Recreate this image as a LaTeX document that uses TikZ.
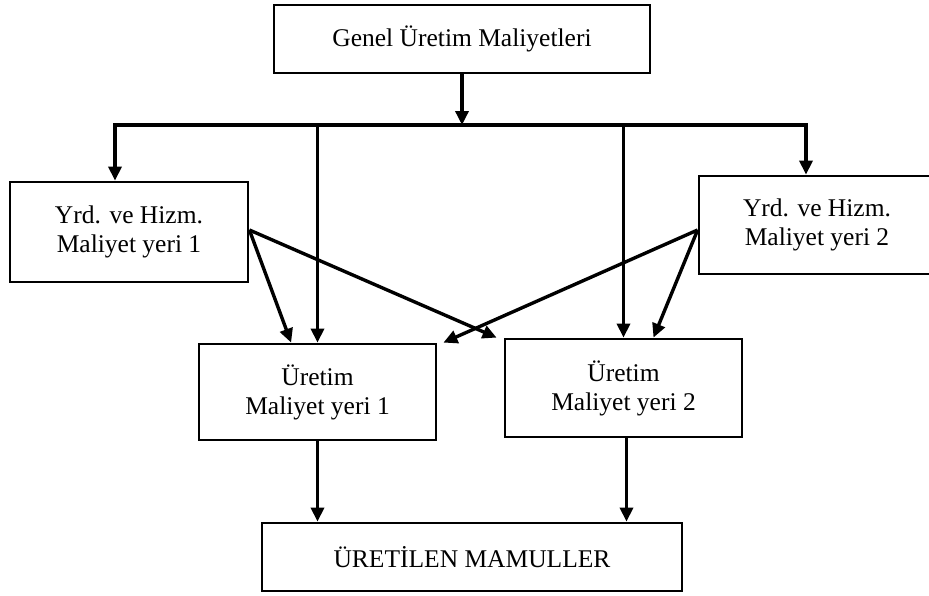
\documentclass[tikz,border=0pt]{standalone}
\usepackage{fontspec}
\setmainfont{Liberation Serif}
\usetikzlibrary{arrows.meta,calc}
\begin{document}
\begin{tikzpicture}[x=1pt,y=-1pt,
  box/.style={draw,line width=2.8pt,rectangle,align=center,inner sep=0pt,
    font=\fontsize{25.5}{29}\selectfont},
  flow/.style={line width=3.4pt,-{Triangle[length=14pt,width=13pt]}},
  flowboth/.style={line width=3.4pt,{Triangle[length=14pt,width=13pt]}-{Triangle[length=14pt,width=13pt]}}]
  \useasboundingbox (0,0) rectangle (929,595);

  % cost centres
  \node[box,minimum width=376pt,minimum height=68pt] (top) at (462,39) {Genel Üretim Maliyetleri};
  \node[box,minimum width=238pt,minimum height=100pt] (left) at (129,232) {Yrd. ve Hizm.\\Maliyet yeri 1};
  \node[box,minimum width=236pt,minimum height=98pt] (right) at (817,225) {Yrd. ve Hizm.\\Maliyet yeri 2};
  \node[box,minimum width=237pt,minimum height=96pt] (u1) at (317.5,392) {Üretim\\Maliyet yeri 1};
  \node[box,minimum width=237pt,minimum height=98pt] (u2) at (623.5,388) {Üretim\\Maliyet yeri 2};
  \node[box,minimum width=420pt,minimum height=68pt] (out) at (472,557) {ÜRETİLEN MAMULLER};

  % distribution bus
  \coordinate (busL) at (115,125);
  \coordinate (busR) at (806,125);
  \draw[flowboth] (busL |- left.north) -- (busL) -- (busR) -- (busR |- right.north);
  \draw[flow] (top.south) -- (top.south |- busL);
  \draw[flow] (u1.north |- busL) -- (u1.north);
  \draw[flow] (u2.north |- busL) -- (u2.north);

  % service centres to production centres
  \coordinate (lsrc) at ([yshift=2pt]left.east);
  \coordinate (rsrc) at ([yshift=-5pt]right.west);
  \draw[flow] (lsrc) -- ($(u1.north west)!0.39!(u1.north east)$);
  \draw[flow] (lsrc) -- ([xshift=-7pt]u2.north west);
  \draw[flow] (rsrc) -- ([xshift=6pt]u1.north east);
  \draw[flow] (rsrc) -- ($(u2.north west)!0.625!(u2.north east)$);

  % production centres to finished goods
  \draw[flow] (u1.south) -- (u1.south |- out.north);
  \draw[flow] ([xshift=3pt]u2.south) -- ([xshift=3pt]u2.south |- out.north);
\end{tikzpicture}
\end{document}
